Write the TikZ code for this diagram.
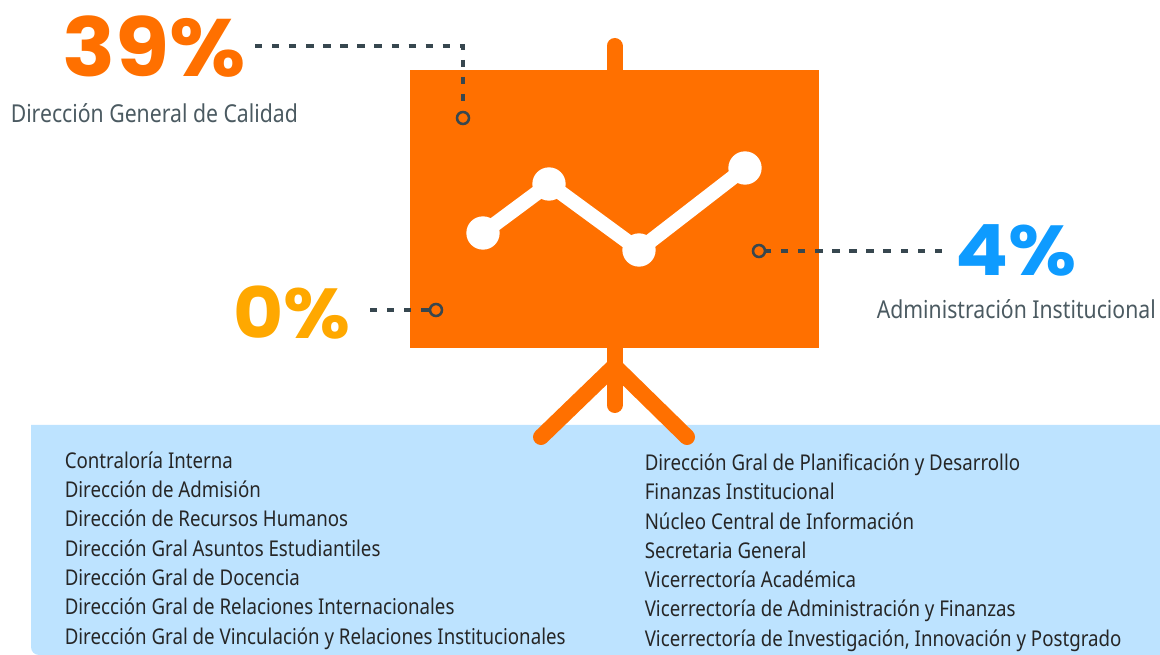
\documentclass[tikz,border=0pt]{standalone}
\usepackage{fontspec}
\setmainfont[FakeStretch=0.86]{Noto Sans}
\newfontfamily\pcta[FakeStretch=1.08]{Poppins Bold}
\newfontfamily\pctb[FakeStretch=1.09]{Poppins Bold}
\newfontfamily\pctc[FakeStretch=1.11]{Poppins Bold}
\definecolor{boardc}{HTML}{FF7000}
\definecolor{panelc}{HTML}{BDE3FF}
\definecolor{darkc}{HTML}{37474F}
\definecolor{goldc}{HTML}{FFA800}
\definecolor{bluec}{HTML}{0E9BFF}
\begin{document}
\begin{tikzpicture}[x=0.75pt,y=-0.75pt,
  leader/.style={draw=darkc,line width=2.6pt,dash pattern=on 5.5pt off 7.3pt},
  ring/.style={circle,draw=darkc,line width=1.9pt,minimum size=9pt,inner sep=0pt},
  pct/.style={inner sep=0pt,anchor=base west},
  captext/.style={font=\fontsize{18.5}{22}\selectfont,text=darkc!90,inner sep=0pt,anchor=base west},
  item/.style={font=\fontsize{16.3}{18}\selectfont,text=black!85,inner sep=0pt,anchor=base west},
  stand/.style={draw=boardc,line width=12pt,line cap=round},
  chartline/.style={draw=white,line width=11pt},
  dotw/.style={circle,fill=white,minimum size=25pt,inner sep=0pt}]
\useasboundingbox (0,0) rectangle (1160,655);
% panel
\fill[panelc] (31,425) -- (1160,425) -- (1160,655) -- (39,655) arc (90:180:8) -- cycle;
% stand
\coordinate (poletop) at (614.5,46);
\coordinate (polebot) at (614.5,405);
\coordinate (apex) at (614.5,366);
\coordinate (legl) at (541,437);
\coordinate (legr) at (687,437);
\draw[stand] (poletop) -- (polebot);
\draw[stand] (legl) -- (apex) -- (legr);
% board
\node[fill=boardc,minimum width=306.75pt,minimum height=208.5pt,inner sep=0pt,anchor=north west] (board) at (410,70) {};
% chart
\node[dotw] (p1) at (483,233) {};
\node[dotw] (p2) at (549,184) {};
\node[dotw] (p3) at (639,250) {};
\node[dotw] (p4) at (745,168) {};
\draw[chartline] (p1.center) -- (p2.center) -- (p3.center) -- (p4.center);
% percents
\node[pct,text=boardc,font=\pcta\fontsize{61}{61}\selectfont] (a) at (62,77) {39\%};
\node[pct,text=goldc,font=\pctb\fontsize{53}{53}\selectfont] (b) at (233,338.5) {0\%};
\node[pct,text=bluec,font=\pctc\fontsize{53}{53}\selectfont] (c) at (955.5,276) {4\%};
% rings
\node[ring] (ra) at (463,118) {};
\node[ring] (rb) at (436,310) {};
\node[ring] (rc) at (759,251) {};
\coordinate (sa) at (255,46);
\coordinate (ca) at (463,46);
\coordinate (sb) at (370,310);
\coordinate (sc) at (942,251);
\draw[leader] (sa) -- (ca) -- (ra);
\draw[leader] (sb) -- (rb);
\draw[leader] (sc) -- (rc);
% captions
\node[captext] (ca1) at (10.5,123) {Dirección General de Calidad};
\node[captext] (cc1) at (876.5,319) {Administración Institucional};
% list left
\node[item] (l1) at (64.5,468.5) {Contraloría Interna};
\node[item] (l2) at (64.5,497.5) {Dirección de Admisión};
\node[item] (l3) at (64.5,527) {Dirección de Recursos Humanos};
\node[item] (l4) at (64.5,556.5) {Dirección Gral Asuntos Estudiantiles};
\node[item] (l5) at (64.5,585.5) {Dirección Gral de Docencia};
\node[item] (l6) at (64.5,614.5) {Dirección Gral de Relaciones Internacionales};
\node[item] (l7) at (64.5,644) {Dirección Gral de Vinculación y Relaciones Institucionales};
% list right
\node[item] (r1) at (644.5,470.5) {Dirección Gral de Planificación y Desarrollo};
\node[item] (r2) at (644.5,499.5) {Finanzas Institucional};
\node[item] (r3) at (644.5,529) {Núcleo Central de Información};
\node[item] (r4) at (644.5,558.5) {Secretaria General};
\node[item] (r5) at (644.5,587.5) {Vicerrectoría Académica};
\node[item] (r6) at (644.5,616.5) {Vicerrectoría de Administración y Finanzas};
\node[item] (r7) at (644.5,646) {Vicerrectoría de Investigación, Innovación y Postgrado};
\end{tikzpicture}
\end{document}
